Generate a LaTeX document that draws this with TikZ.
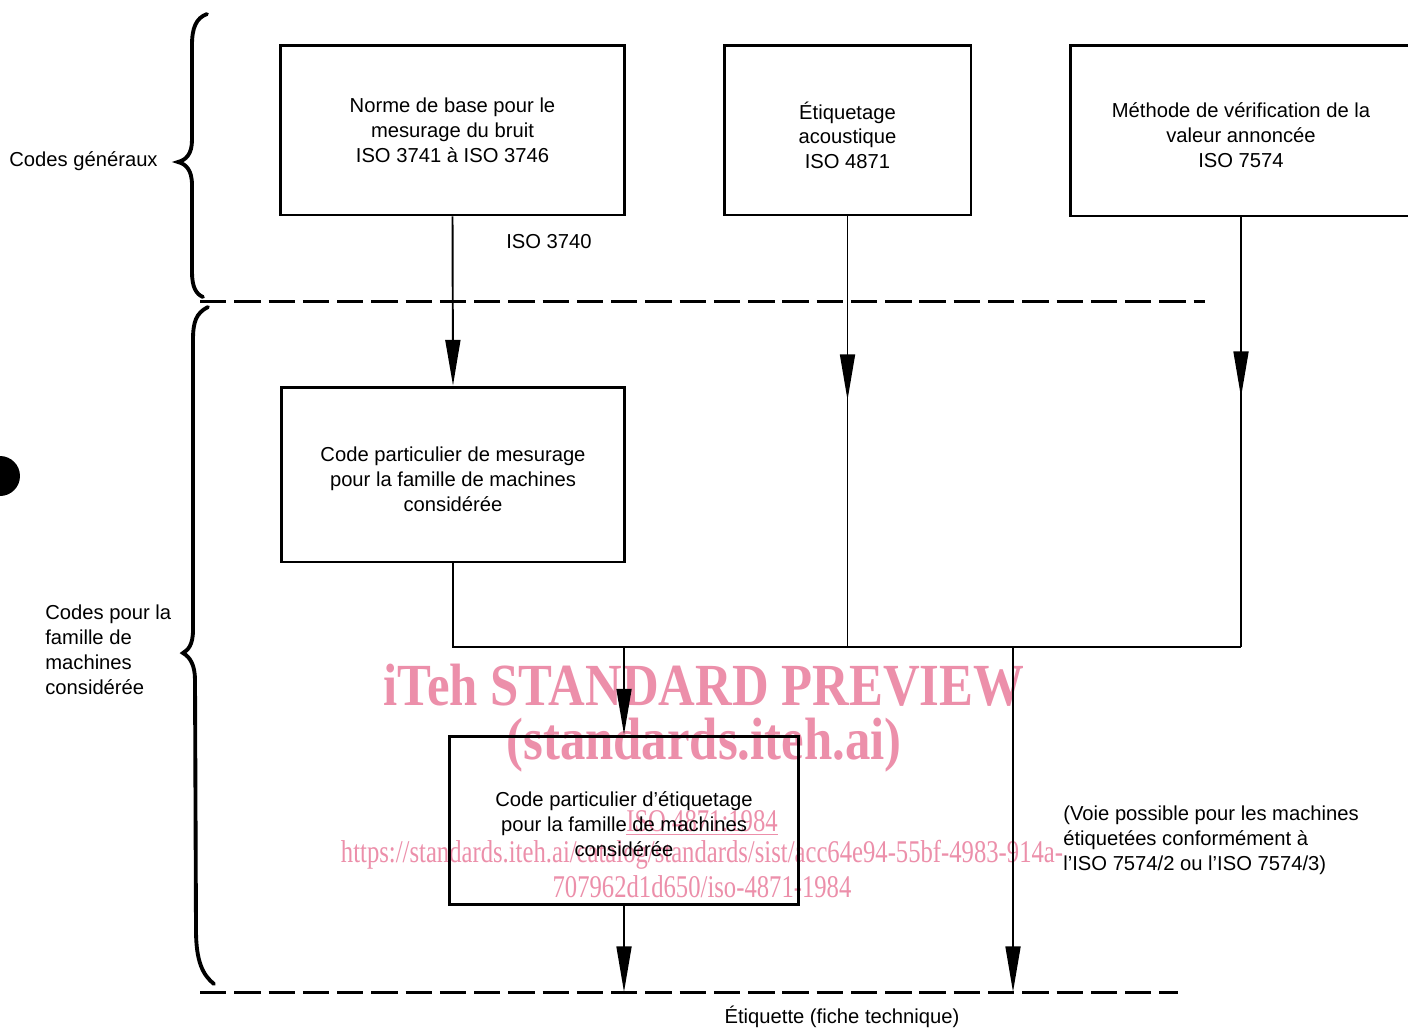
\documentclass[tikz,border=0pt]{standalone}
\usepackage{fontspec}
\setmainfont{Liberation Sans}
\newfontfamily\wmfont[FakeStretch=0.85]{Liberation Serif}
\newfontfamily\wmsmall[FakeStretch=0.78]{Liberation Serif}
\usetikzlibrary{arrows.meta}
\definecolor{wmpink}{HTML}{EC8FAA}
\tikzset{
  codebox/.style={draw, line width=1.7pt, align=center, inner sep=0pt,
    font=\fontsize{11.5}{14.2}\selectfont},
  conn/.style={draw, line width=1.1pt},
  tip/.style={conn, -{Triangle[length=26pt,width=8.5pt]}},
  sepline/.style={draw, line width=1.7pt, dash pattern=on 15pt off 4.5pt},
  brace/.style={draw, line width=2.2pt, line cap=round},
  lab/.style={font=\fontsize{11.5}{14.2}\selectfont, inner sep=0pt},
  wm/.style={text=wmpink, inner sep=0pt},
}

\begin{document}
\begin{tikzpicture}[x=0.02cm, y=-0.02cm]
  \clip (0,0) rectangle (1408,1029);
  \fill[white] (0,0) rectangle (1408,1029);

  % watermark
  \node[wm, font=\wmfont\bfseries\fontsize{34}{34}\selectfont] (wm1) at (704,685) {iTeh STANDARD PREVIEW};
  \node[wm, font=\wmfont\bfseries\fontsize{34}{34}\selectfont] (wm2) at (704,745) {(standards.iteh.ai)};
  \node[wm, font=\wmsmall\fontsize{18}{18}\selectfont] (wm3) at (702,823) {\underline{ISO 4871:1984}};
  \node[wm, font=\wmsmall\fontsize{18}{18}\selectfont] (wm4) at (702,855) {https://standards.iteh.ai/catalog/standards/sist/acc64e94-55bf-4983-914a-};
  \node[wm, font=\wmsmall\fontsize{18}{18}\selectfont] (wm5) at (702,887) {707962d1d650/iso-4871-1984};

  % boxes
  \node[codebox, minimum width=6.9cm, minimum height=3.4cm] (norme) at (452.5,130)
    {Norme de base pour le\\mesurage du bruit\\ISO 3741 à ISO 3746};
  \node[codebox, minimum width=4.94cm, minimum height=3.4cm] (etiq) at (847.5,130)
    {\rule{0pt}{16pt}Étiquetage\\acoustique\\ISO 4871};
  \node[codebox, minimum width=6.84cm, minimum height=3.42cm] (verif) at (1241,130.5)
    {\rule{0pt}{14pt}Méthode de vérification de la\\valeur annoncée\\ISO 7574};
  \node[codebox, minimum width=6.88cm, minimum height=3.5cm] (mesure) at (453,474.5)
    {\rule{0pt}{14pt}Code particulier de mesurage\\pour la famille de machines\\considérée};
  \node[codebox, minimum width=7cm, minimum height=3.36cm] (etiqfam) at (624,820)
    {\rule{0pt}{13.5pt}Code particulier d’étiquetage\\pour la famille de machines\\considérée};

  % junctions
  \coordinate (bus) at (451,647);
  \coordinate (drop) at (1013,647);
  \coordinate (label) at (1013,992);

  % connectors
  \draw[tip] (norme.south) -- (mesure.north);
  \draw[conn] (etiq.south) -- (etiq.south |- bus);
  \draw[tip] (etiq.south) -- (etiq.south |- 0,400);
  \draw[conn] (verif.south) -- (verif.south |- bus);
  \draw[tip] (verif.south) -- (verif.south |- 0,397);
  \draw[conn] (mesure.south) |- (verif.south |- bus);
  \draw[tip] (etiqfam.north |- bus) -- (etiqfam.north);
  \draw[tip] (drop) -- (label);
  \draw[tip] (etiqfam.south) -- (etiqfam.south |- label);

  % separators
  \draw[sepline] (200,301) -- (1205,301);
  \draw[sepline] (200,992) -- (1178,992);

  % braces
  \draw[brace] (207,14) .. controls (196,18) and (192,28) .. (192,45) -- (192,140)
    .. controls (192,154) and (186,160) .. (178,162)
    .. controls (186,164) and (192,170) .. (192,185) -- (192,272)
    .. controls (192,287) and (196,294) .. (203,297);
  \draw[brace] (208,307) .. controls (196,313) and (193,322) .. (193,340) -- (193,630)
    .. controls (193,645) and (188,650) .. (183,653)
    .. controls (190,657) and (195,665) .. (195,680) -- (196,930)
    .. controls (196,962) and (203,975) .. (214,984);

  \fill (0,476) circle[radius=0.4cm];

  % labels
  \node[lab, anchor=east] (gen) at (158,161) {Codes généraux};
  \node[lab, anchor=west, align=left] (fam) at (45,650)
    {Codes pour la\\famille de\\machines\\considérée};
  \node[lab] (iso) at (549,242) {ISO 3740};
  \node[lab, anchor=west, align=left] (voie) at (1063,840)
    {(Voie possible pour les machines\\étiquetées conformément à\\l’ISO 7574/2 ou l’ISO 7574/3)};
  \node[lab] (etiquette) at (842,1017) {Étiquette (fiche technique)};
\end{tikzpicture}
\end{document}
